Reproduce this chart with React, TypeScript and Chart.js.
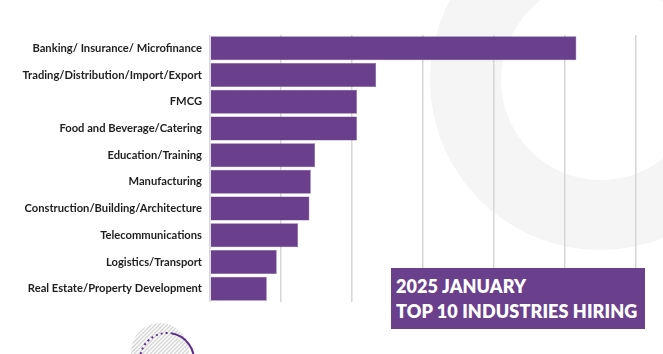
import React, { useEffect, useRef } from "react";
import { Chart, registerables } from "chart.js";

Chart.register(...registerables);

const categories: string[] = [
  "Banking/ Insurance/ Microfinance",
  "Trading/Distribution/Import/Export",
  "FMCG",
  "Food and Beverage/Catering",
  "Education/Training",
  "Manufacturing",
  "Construction/Building/Architecture",
  "Telecommunications",
  "Logistics/Transport",
  "Real Estate/Property Development",
];

const hiringValues: number[] = [25.8, 11.7, 10.35, 10.35, 7.4, 7.1, 7.0, 6.2, 4.7, 4.0];

const axisMax = 30;
const axisStep = 5;

const titleLines: string[] = ["2025 JANUARY", "TOP 10 INDUSTRIES HIRING"];

const PURPLE = "#6a3f8b";

const decorPlugin = {
  id: "decor",
  beforeDraw(chart: any) {
    const { ctx, width, height } = chart;
    ctx.save();
    ctx.fillStyle = "#ffffff";
    ctx.fillRect(0, 0, width, height);
    // large grey ring top right
    ctx.beginPath();
    ctx.arc(600, 80, 170, 0, Math.PI * 2);
    ctx.arc(601, 80, 100, 0, Math.PI * 2, true);
    ctx.fillStyle = "#f5f5f5";
    ctx.fill("evenodd");
    ctx.restore();
  },
  afterDraw(chart: any) {
    const { ctx } = chart;
    ctx.save();
    // hatched circle bottom-left
    ctx.beginPath();
    ctx.arc(160, 352, 29, 0, Math.PI * 2);
    ctx.clip();
    ctx.strokeStyle = "#d4d4d4";
    ctx.lineWidth = 1.3;
    for (let k = -80; k < 80; k += 4) {
      ctx.beginPath();
      ctx.moveTo(160 + k - 40, 352 + 40);
      ctx.lineTo(160 + k + 40, 352 - 40);
      ctx.stroke();
    }
    ctx.restore();
    ctx.save();
    ctx.strokeStyle = "#5b2d86";
    ctx.lineWidth = 2;
    ctx.setLineDash([2, 3]);
    ctx.beginPath();
    ctx.arc(167, 360, 27, Math.PI * 0.95, Math.PI * 1.55);
    ctx.stroke();
    ctx.setLineDash([]);
    ctx.beginPath();
    ctx.arc(167, 360, 27, Math.PI * 1.55, Math.PI * 2.1);
    ctx.stroke();
    ctx.restore();
  },
};

export default function App() {
  const canvasRef = useRef<HTMLCanvasElement | null>(null);

  useEffect(() => {
    if (!canvasRef.current) return;
    const chart = new Chart(canvasRef.current, {
      type: "bar",
      data: {
        labels: categories,
        datasets: [
          {
            data: hiringValues,
            backgroundColor: PURPLE,
            borderColor: "#7a55a0",
            borderWidth: 0.5,
            barPercentage: 0.9,
            categoryPercentage: 1,
          },
        ],
      },
      options: {
        indexAxis: "y",
        animation: false,
        responsive: false,
        maintainAspectRatio: false,
        layout: { padding: { top: 35, bottom: 52, right: 27, left: 0 } },
        plugins: { legend: { display: false }, tooltip: { enabled: false }, title: { display: false } },
        scales: {
          x: {
            min: 0,
            max: axisMax,
            ticks: { display: false, stepSize: axisStep },
            grid: { color: "#d6d6d6", lineWidth: 1.5, drawTicks: false },
            border: { display: false },
            afterFit(scale: any) {
              scale.height = 0;
            },
          },
          y: {
            grid: { display: false, drawTicks: false },
            border: { display: false },
            ticks: {
              color: "#1e1e1e",
              padding: 8,
              font: { family: "Lato", size: 11.2, weight: "bold" },
            },
            afterFit(scale: any) {
              scale.width = 210;
            },
          },
        },
      },
      plugins: [decorPlugin],
    });
    return () => chart.destroy();
  }, []);

  return (
    <div style={{ position: "absolute", left: 0, top: 0, width: 663, height: 354, overflow: "hidden", background: "#fff" }}>
      <canvas ref={canvasRef} width={663} height={354} style={{ display: "block" }} />
      <div
        style={{
          position: "absolute",
          left: 391,
          top: 268,
          width: 254,
          height: 61,
          background: PURPLE,
          color: "#fff",
          fontFamily: "Lato, sans-serif",
          fontWeight: 800,
          fontSize: 18,
          lineHeight: "25px",
          boxSizing: "border-box",
          padding: "6px 0 0 5px",
          letterSpacing: 0.1,
          whiteSpace: "nowrap",
        }}
      >
        {titleLines.map((t) => (
          <div key={t}>{t}</div>
        ))}
      </div>
    </div>
  );
}
